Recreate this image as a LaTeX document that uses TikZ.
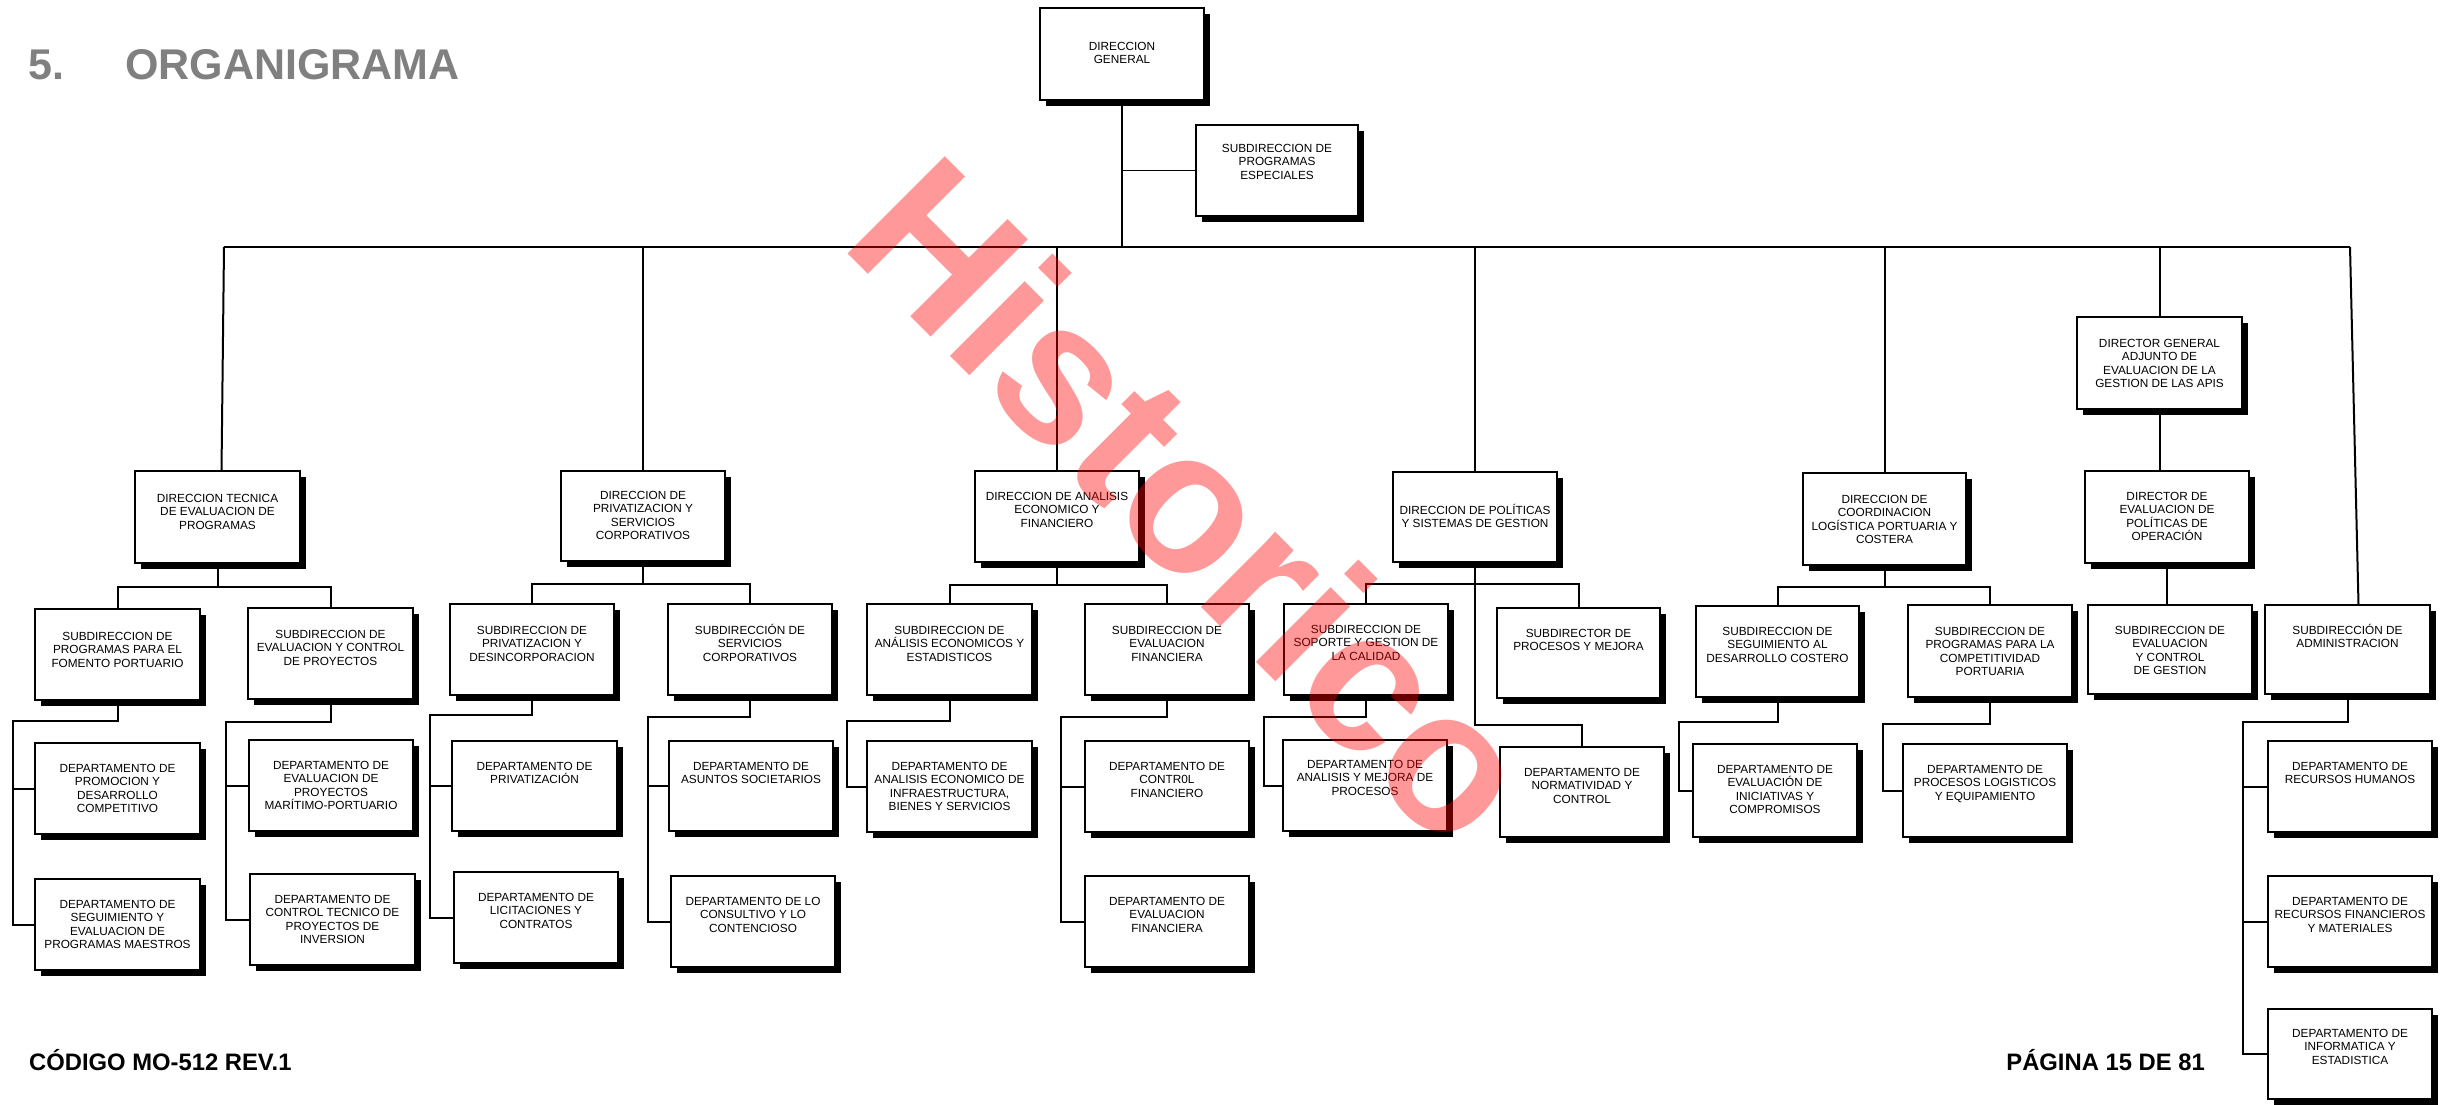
\documentclass[tikz,border=0pt]{standalone}
\usepackage{fontspec}
\setmainfont{Liberation Sans}
\usetikzlibrary{calc}
\pgfdeclarelayer{background}
\pgfsetlayers{background,main}
\definecolor{titlegray}{RGB}{128,128,128}
\tikzset{
  box/.style={draw=black, line width=2pt, fill=white, rectangle, inner sep=0pt, outer sep=0pt},
  boxtext/.style={align=center, inner sep=0pt, font=\fontsize{11.8}{13.5}\selectfont},
  conn/.style={draw=black, line width=2pt},
  topline/.style={draw=black, line width=1.6pt},
}
\newcommand\bx[7]{%
  \pgfmathsetmacro\bw{#4-#2}\pgfmathsetmacro\bh{#5-#3}\pgfmathsetmacro\bo{11.5-#6}%
  \fill[black] (#2+6,#3+6) rectangle (#4+6,#5+6);
  \node[box, minimum width=\bw pt, minimum height=\bh pt, anchor=north west] (#1) at (#2,#3) {};
  \node[boxtext, anchor=north] (#1t) at ([yshift=\bo pt]#1.north) {\rule{0pt}{11.5pt}#7};
}
\begin{document}
\begin{tikzpicture}[x=1pt,y=-1pt]
\begin{pgfonlayer}{background}
\fill[white] (0,0) rectangle (2446,1105);
\end{pgfonlayer}
\useasboundingbox (0,0) rectangle (2446,1105);

% title
\node[anchor=base west, inner sep=0, text=titlegray, font=\fontsize{43}{43}\selectfont\bfseries] (tnum) at (28,80) {5.};
\node[anchor=base west, inner sep=0, text=titlegray, font=\fontsize{43}{43}\selectfont\bfseries] (ttl) at (125,80) {ORGANIGRAMA};

% top
\bx{dg}{1040}{8}{1204}{100}{42}{DIRECCION\\GENERAL}
\bx{spe}{1196}{125}{1358}{216}{27}{SUBDIRECCION DE\\PROGRAMAS\\ESPECIALES}

% column 1
\bx{dt}{135}{471}{300}{563}{31}{DIRECCION TECNICA\\DE EVALUACION DE\\PROGRAMAS}
\bx{sub1}{35}{609}{200}{700}{31}{SUBDIRECCION DE\\PROGRAMAS PARA EL\\FOMENTO PORTUARIO}
\bx{sub2}{248}{608}{413}{699}{30}{SUBDIRECCION DE\\EVALUACION Y CONTROL\\DE PROYECTOS}
\bx{d1a}{35}{743}{200}{834}{29}{DEPARTAMENTO DE\\PROMOCION Y\\DESARROLLO\\COMPETITIVO}
\bx{d1b}{35}{879}{200}{970}{29}{DEPARTAMENTO DE\\SEGUIMIENTO Y\\EVALUACION DE\\PROGRAMAS MAESTROS}
\bx{d2a}{249}{740}{413}{831}{29}{DEPARTAMENTO DE\\EVALUACION DE\\PROYECTOS\\MARÍTIMO-PORTUARIO}
\bx{d2b}{250}{874}{415}{965}{29}{DEPARTAMENTO DE\\CONTROL TECNICO DE\\PROYECTOS DE\\INVERSION}

% column 2
\bx{dp}{561}{471}{725}{561}{28}{DIRECCION DE\\PRIVATIZACION Y\\SERVICIOS\\CORPORATIVOS}
\bx{sub3}{450}{604}{614}{695}{30}{SUBDIRECCION DE\\PRIVATIZACION Y\\DESINCORPORACION}
\bx{sub4}{668}{604}{832}{695}{30}{SUBDIRECCIÓN DE\\SERVICIOS\\CORPORATIVOS}
\bx{d3a}{452}{741}{617}{831}{29}{DEPARTAMENTO DE\\PRIVATIZACIÓN}
\bx{d3b}{454}{872}{618}{963}{29}{DEPARTAMENTO DE\\LICITACIONES Y\\CONTRATOS}
\bx{d4a}{669}{741}{833}{831}{29}{DEPARTAMENTO DE\\ASUNTOS SOCIETARIOS}
\bx{d4b}{671}{876}{835}{967}{29}{DEPARTAMENTO DE LO\\CONSULTIVO Y LO\\CONTENCIOSO}

% column 3
\bx{da}{975}{471}{1139}{562}{29}{DIRECCION DE ANALISIS\\ECONOMICO Y\\FINANCIERO}
\bx{sub5}{867}{604}{1032}{695}{30}{SUBDIRECCION DE\\ANÁLISIS ECONOMICOS Y\\ESTADISTICOS}
\bx{sub6}{1085}{604}{1249}{695}{30}{SUBDIRECCION DE\\EVALUACION\\FINANCIERA}
\bx{d5}{867}{741}{1032}{832}{29}{DEPARTAMENTO DE\\ANALISIS ECONOMICO DE\\INFRAESTRUCTURA,\\BIENES Y SERVICIOS}
\bx{d6a}{1085}{741}{1249}{832}{29}{DEPARTAMENTO DE\\CONTR0L\\FINANCIERO}
\bx{d6b}{1085}{876}{1249}{967}{29}{DEPARTAMENTO DE\\EVALUACION\\FINANCIERA}

% column 4
\bx{dps}{1393}{472}{1557}{562}{42}{DIRECCION DE POLÍTICAS\\Y SISTEMAS DE GESTION}
\bx{sub7}{1284}{604}{1448}{695}{29}{SUBDIRECCION DE\\SOPORTE Y GESTION DE\\LA CALIDAD}
\bx{sub8}{1497}{608}{1660}{698}{29}{SUBDIRECTOR DE\\PROCESOS Y MEJORA}
\bx{d7}{1283}{740}{1447}{831}{28}{DEPARTAMENTO DE\\ANALISIS Y MEJORA DE\\PROCESOS}
\bx{d8}{1500}{747}{1664}{837}{29}{DEPARTAMENTO DE\\NORMATIVIDAD Y\\CONTROL}

% column 5
\bx{dc}{1803}{473}{1966}{565}{30}{DIRECCION DE\\COORDINACION\\LOGÍSTICA PORTUARIA Y\\COSTERA}
\bx{sub9}{1696}{606}{1859}{697}{29}{SUBDIRECCION DE\\SEGUIMIENTO AL\\DESARROLLO COSTERO}
\bx{sub10}{1908}{605}{2072}{697}{30}{SUBDIRECCION DE\\PROGRAMAS PARA LA\\COMPETITIVIDAD\\PORTUARIA}
\bx{d9}{1693}{744}{1857}{837}{29}{DEPARTAMENTO DE\\EVALUACIÓN DE\\INICIATIVAS Y\\COMPROMISOS}
\bx{d10}{1903}{744}{2067}{837}{29}{DEPARTAMENTO DE\\PROCESOS LOGISTICOS\\Y EQUIPAMIENTO}

% column 6
\bx{dga}{2077}{317}{2242}{409}{30}{DIRECTOR GENERAL\\ADJUNTO DE\\EVALUACION DE LA\\GESTION DE LAS APIS}
\bx{dep}{2085}{471}{2249}{563}{29}{DIRECTOR DE\\EVALUACION DE\\POLÍTICAS DE\\OPERACIÓN}
\bx{sub11}{2088}{605}{2252}{694}{29}{SUBDIRECCION DE\\EVALUACION\\Y CONTROL\\DE GESTION}
\bx{admin}{2265}{605}{2430}{694}{29}{SUBDIRECCIÓN DE\\ADMINISTRACION}
\bx{da1}{2268}{741}{2432}{832}{29}{DEPARTAMENTO DE\\RECURSOS HUMANOS}
\bx{da2}{2268}{876}{2432}{967}{29}{DEPARTAMENTO DE\\RECURSOS FINANCIEROS\\Y MATERIALES}
\bx{da3}{2268}{1009}{2432}{1099}{28}{DEPARTAMENTO DE\\INFORMATICA Y\\ESTADISTICA}

% connectors
\begin{pgfonlayer}{background}
\coordinate (busY) at (0,247);
\coordinate (busR) at (2350,247);
\coordinate (busL) at (224,247);
\draw[topline] (dg.south) -- (dg.south |- busY);
\draw[topline] (dg.south |- spe.west) -- (spe.west);
\draw[topline] (busL) -- (busR);
\draw[conn] (busL) -- ([xshift=4pt]dt.north);
\foreach \n in {dp,da,dps,dc,dga} \draw[conn] (\n.north |- busY) -- (\n.north);
\draw[conn] (busR) -- ([xshift=11pt]admin.north);
\draw[conn] (dga.south) -- (dga.south |- dep.north);
\draw[conn] (dep.south) -- (dep.south |- sub11.north);

\draw[conn] (dt.south) -- ++(0,24) coordinate (jdt) -| (sub1.north);
\draw[conn] (jdt) -| (sub2.north);
\draw[conn] (dp.south) -- ++(0,23) coordinate (jdp) -| (sub3.north);
\draw[conn] (jdp) -| (sub4.north);
\draw[conn] (da.south) -- ++(0,23) coordinate (jda) -| (sub5.north);
\draw[conn] (jda) -| (sub6.north);
\draw[conn] (dps.south) -- ++(0,22) coordinate (jdps) -| (sub7.north);
\draw[conn] (jdps) -| (sub8.north);
\draw[conn] (jdps) -- ++(0,141) -| (d8.north);
\draw[conn] (dc.south) -- ++(0,22) coordinate (jdc) -| (sub9.north);
\draw[conn] (jdc) -| (sub10.north);

% department brackets
\coordinate (k1) at (13,0);
\draw[conn] (sub1.south) -- ++(0,21) -| (k1 |- d1b.west) -- (d1b.west);
\draw[conn] (k1 |- d1a.west) -- (d1a.west);
\coordinate (k2) at (226,0);
\draw[conn] (sub2.south) -- ++(0,23) -| (k2 |- d2b.west) -- (d2b.west);
\draw[conn] (k2 |- d2a.west) -- (d2a.west);
\coordinate (k3) at (430,0);
\draw[conn] (sub3.south) -- ++(0,20) -| (k3 |- d3b.west) -- (d3b.west);
\draw[conn] (k3 |- d3a.west) -- (d3a.west);
\coordinate (k4) at (648,0);
\draw[conn] (sub4.south) -- ++(0,22) -| (k4 |- d4b.west) -- (d4b.west);
\draw[conn] (k4 |- d4a.west) -- (d4a.west);
\coordinate (k5) at (847,0);
\draw[conn] (sub5.south) -- ++(0,26) -| (k5 |- d5.west) -- (d5.west);
\coordinate (k6) at (1061,0);
\draw[conn] (sub6.south) -- ++(0,22) -| (k6 |- d6b.west) -- (d6b.west);
\draw[conn] (k6 |- d6a.west) -- (d6a.west);
\coordinate (k7) at (1264,0);
\draw[conn] (sub7.south) -- ++(0,22) -| (k7 |- d7.west) -- (d7.west);
\coordinate (k9) at (1679,0);
\draw[conn] (sub9.south) -- ++(0,25) -| (k9 |- d9.west) -- (d9.west);
\coordinate (k10) at (1883,0);
\draw[conn] (sub10.south) -- ++(0,27) -| (k10 |- d10.west) -- (d10.west);
\coordinate (ka) at (2243,0);
\draw[conn] (admin.south) -- ++(0,28) -| (ka |- da3.west) -- (da3.west);
\draw[conn] (ka |- da1.west) -- (da1.west);
\draw[conn] (ka |- da2.west) -- (da2.west);
\end{pgfonlayer}

% footer
\node[anchor=base west, inner sep=0, font=\fontsize{23.8}{24}\selectfont\bfseries] (foot1) at (29,1070) {CÓDIGO MO-512 REV.1};
\node[anchor=base east, inner sep=0, font=\fontsize{23.8}{24}\selectfont\bfseries] (foot2) at (2205,1070) {PÁGINA 15 DE 81};

% watermark
\node[anchor=base west, rotate=-45, inner sep=0, text=red, text opacity=0.4, font=\fontsize{200}{200}\selectfont\bfseries] (wm) at (838,244) {Historico};
\end{tikzpicture}
\end{document}
